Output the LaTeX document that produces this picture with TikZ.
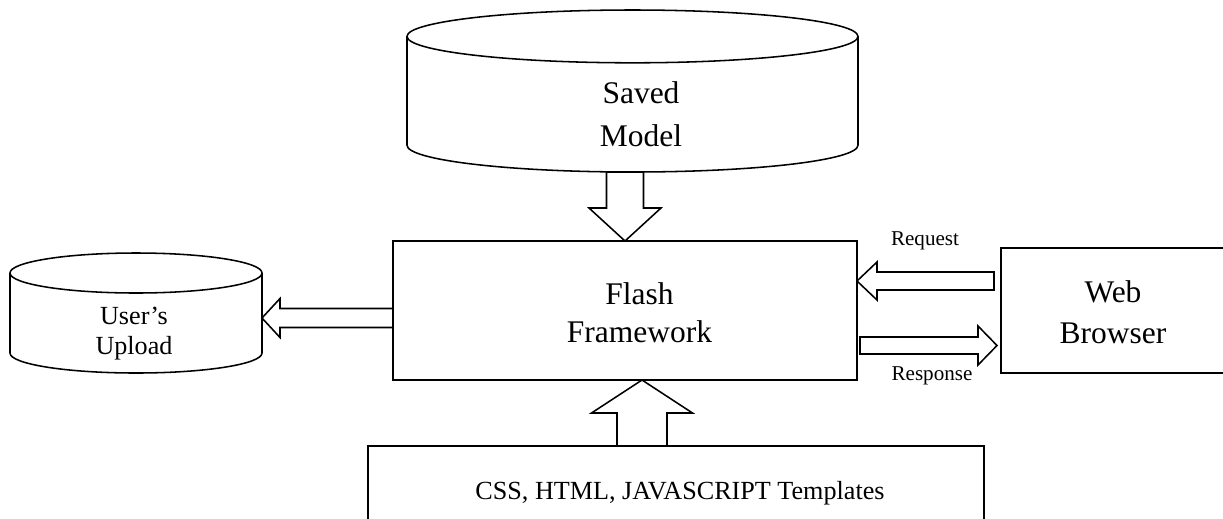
\documentclass[tikz,border=0pt]{standalone}
\usepackage{fontspec}
\setmainfont{Liberation Serif}
\usetikzlibrary{calc}

\tikzset{
  boxnode/.style={draw, line width=1.1pt, inner sep=0pt, outer sep=0pt},
  drumnode/.style={inner sep=0pt, outer sep=0pt},
  drumline/.style={line width=1.1pt},
  blockarrow/.style={draw, line width=1.1pt, line join=miter, fill=white},
  bigtext/.style={font=\fontsize{22.4pt}{27pt}\selectfont, align=center, inner sep=0pt},
  midtext/.style={font=\fontsize{18.6pt}{21.3pt}\selectfont, align=center, inner sep=0pt},
  smalltext/.style={font=\fontsize{15pt}{18pt}\selectfont, inner sep=0pt},
}

% hollow block arrow: tail, tip, half shaft, half head, head length
\newcommand{\hollowarrow}[5]{%
  \coordinate (hb) at ($(#2)!#5!(#1)$);
  \draw[blockarrow] ($(#1)!#3!90:(#2)$) -- ($(hb)!#3!90:(#2)$) -- ($(hb)!#4!90:(#2)$) -- (#2)
    -- ($(hb)!#4!-90:(#2)$) -- ($(hb)!#3!-90:(#2)$) -- ($(#1)!#3!-90:(#2)$) -- cycle;
}

\begin{document}
\begin{tikzpicture}
\useasboundingbox (0,0) rectangle (30.575,-12.95);

% boxes
\node[boxnode, minimum width=11.6cm, minimum height=3.475cm] (flash) at (15.625,-7.7625) {};
\node[boxnode, minimum width=5.7cm, minimum height=3.125cm] (browser) at (27.875,-7.7625) {};
\node[boxnode, minimum width=15.4cm, minimum height=2.2cm] (css) at (16.9,-12.25) {};

% storage drums
\node[drumnode, minimum width=11.275cm, minimum height=4.05cm] (model) at (15.8125,-2.275) {};
\node[drumnode, minimum width=6.3cm, minimum height=3cm] (upload) at (3.4,-7.825) {};
\draw[drumline] ($(model.north)+(0,-0.66)$) ellipse [x radius=5.6375, y radius=0.66];
\draw[drumline] ($(model.north west)+(0,-0.66)$) -- ($(model.south west)+(0,0.67)$) arc [start angle=180, end angle=360, x radius=5.6375, y radius=0.67] -- ($(model.north east)+(0,-0.66)$);
\draw[drumline] ($(upload.north)+(0,-0.5)$) ellipse [x radius=3.15, y radius=0.5];
\draw[drumline] ($(upload.north west)+(0,-0.5)$) -- ($(upload.south west)+(0,0.5)$) arc [start angle=180, end angle=360, x radius=3.15, y radius=0.5] -- ($(upload.north east)+(0,-0.5)$);

% texts
\node[bigtext, font=\fontsize{22.4pt}{30.6pt}\selectfont] (modeltext) at (16.025,-2.85) {Saved\\Model};
\node[bigtext] (flashtext) at (15.9875,-7.806) {Flash\\Framework};
\node[bigtext, font=\fontsize{22.4pt}{29.2pt}\selectfont] (browsertext) at (27.825,-7.8) {Web\\Browser};
\node[midtext] (uploadtext) at (3.35,-8.35) {User’s\\Upload};
\node[midtext, anchor=base] (csstext) at (17.0,-12.475) {CSS, HTML, JAVASCRIPT Templates};
\node[smalltext, anchor=base] (reqtext) at (23.125,-6.125) {Request};
\node[smalltext, anchor=base] (restext) at (23.3,-9.5) {Response};

% arrow ends
\coordinate (modelout) at (flash.north |- model.south);
\coordinate (cssin) at ($(flash.south)+(0.425,0)$);
\coordinate (upout) at ($(flash.west)+(0,-0.1875)$);
\coordinate (reqout) at ($(browser.west)+(-0.175,0.7375)$);
\coordinate (resout) at ($(flash.east)+(0.075,-0.875)$);
\coordinate (resin) at ($(resout -| browser.west)+(-0.1,0)$);

% block arrows
\hollowarrow{modelout}{flash.north}{0.4625cm}{0.9cm}{0.825cm}
\hollowarrow{cssin |- css.north}{cssin}{0.625cm}{1.2625cm}{0.825cm}
\hollowarrow{upout}{upout -| upload.east}{0.2375cm}{0.4875cm}{0.45cm}
\hollowarrow{reqout}{reqout -| flash.east}{0.225cm}{0.475cm}{0.5cm}
\hollowarrow{resout}{resin}{0.2125cm}{0.4875cm}{0.475cm}
\end{tikzpicture}
\end{document}
